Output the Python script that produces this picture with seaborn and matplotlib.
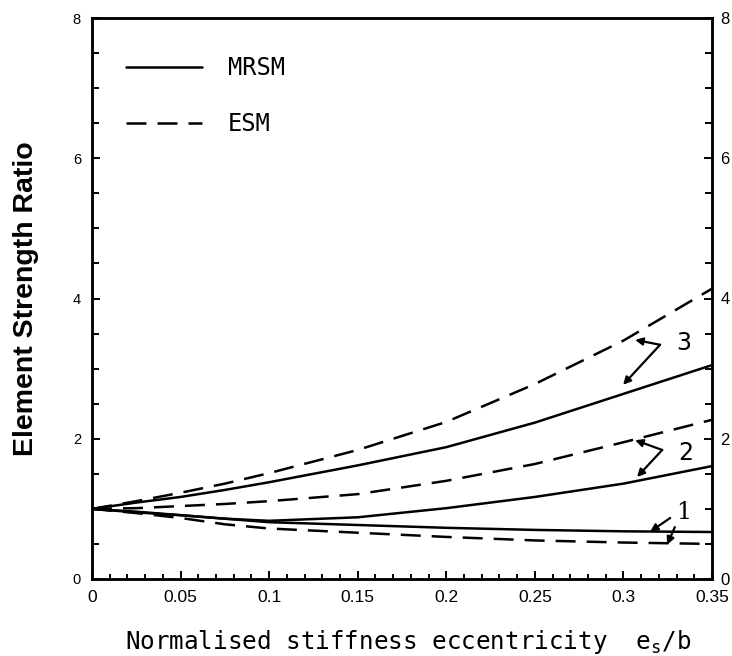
import numpy as np
import pandas as pd
import matplotlib
matplotlib.use("Agg")
import matplotlib.pyplot as plt
from matplotlib.lines import Line2D
import seaborn as sns

# ---- data ----
ecc = [0.0, 0.025, 0.05, 0.075, 0.1, 0.15, 0.2, 0.25, 0.3, 0.35]
mrsm_1 = [1.0, 0.95, 0.91, 0.86, 0.81, 0.77, 0.73, 0.70, 0.68, 0.67]
esm_1 = [1.0, 0.94, 0.87, 0.78, 0.72, 0.66, 0.60, 0.55, 0.52, 0.50]
mrsm_2 = [1.0, 0.96, 0.91, 0.86, 0.83, 0.88, 1.01, 1.17, 1.36, 1.61]
esm_2 = [1.0, 1.01, 1.04, 1.07, 1.11, 1.21, 1.40, 1.64, 1.95, 2.27]
mrsm_3 = [1.0, 1.09, 1.17, 1.27, 1.38, 1.62, 1.88, 2.23, 2.64, 3.05]
esm_3 = [1.0, 1.11, 1.23, 1.36, 1.51, 1.84, 2.24, 2.78, 3.40, 4.14]

methods = ["MRSM", "ESM"]
curve_ids = ["1", "2", "3"]
x_ticks = [0, 0.05, 0.1, 0.15, 0.2, 0.25, 0.3, 0.35]
x_ticklabels = ["0", "0.05", "0.1", "0.15", "0.2", "0.25", "0.3", "0.35"]
y_ticks = [0, 2, 4, 6, 8]

series = {("1", "MRSM"): mrsm_1, ("1", "ESM"): esm_1,
          ("2", "MRSM"): mrsm_2, ("2", "ESM"): esm_2,
          ("3", "MRSM"): mrsm_3, ("3", "ESM"): esm_3}
rows = []
for (cid, m), vals in series.items():
    for xv, yv in zip(ecc, vals):
        rows.append({"e": xv, "ratio": yv, "curve": cid + m, "method": m})
df = pd.DataFrame(rows)

# ---- style ----
sns.set_style("ticks")
plt.rcParams["font.family"] = ["Liberation Sans", "DejaVu Sans"]
plt.rcParams["mathtext.fontset"] = "custom"
plt.rcParams["mathtext.rm"] = "DejaVu Sans Mono"
plt.rcParams["mathtext.it"] = "DejaVu Sans Mono"
for k in ["text.color", "axes.labelcolor", "xtick.color", "ytick.color", "axes.edgecolor"]:
    plt.rcParams[k] = "black"

LW = 1.8
DASH = (8, 4.4)

fig = plt.figure(figsize=(7.32, 6.56), dpi=100)
ax = fig.add_axes([92 / 732, 1 - 579 / 656, 620 / 732, 561 / 656])

sns.lineplot(data=df, x="e", y="ratio", units="curve", style="method",
             style_order=methods, dashes={"MRSM": "", "ESM": DASH},
             color="black", estimator=None, linewidth=LW, legend=False,
             sort=False, ax=ax)

ax.set_xlim(0, 0.35)
ax.set_ylim(0, 8)
ax.set_xticks(x_ticks)
ax.set_xticklabels(x_ticklabels)
ax.set_xticks(np.arange(0, 0.3501, 0.01), minor=True)
ax.set_yticks(y_ticks)
ax.set_yticks(np.arange(0, 8.01, 0.5), minor=True)

for sp in ax.spines.values():
    sp.set_visible(True)
    sp.set_linewidth(1.8)
    sp.set_color("black")

ax.tick_params(axis="x", which="major", direction="in", length=6, width=1.4,
               labelsize=12.5, pad=8, top=False)
ax.tick_params(axis="x", which="minor", direction="in", length=3.5, width=1.4, top=False)
ax.tick_params(axis="y", which="major", direction="in", length=6, width=1.4,
               labelsize=10.5, pad=8, left=True, right=False)
ax.tick_params(axis="y", which="minor", direction="in", length=5, width=1.4,
               left=True, right=False)

# right-hand axis with its own labels
ax2 = ax.twinx()
ax2.set_ylim(0, 8)
ax2.set_yticks(y_ticks)
ax2.set_yticks(np.arange(0, 8.01, 0.5), minor=True)
ax2.tick_params(axis="y", which="major", direction="in", length=6, width=1.4,
                labelsize=12, pad=6)
ax2.tick_params(axis="y", which="minor", direction="in", length=5, width=1.4)
for sp in ax2.spines.values():
    sp.set_linewidth(1.8)
    sp.set_color("black")

ax.set_xlabel("Normalised stiffness eccentricity  e$_\\mathrm{s}$/b",
              family="DejaVu Sans Mono", fontsize=17.5)
ax.xaxis.set_label_coords(0.51, -0.088)
ax.set_ylabel("Element Strength Ratio", fontsize=20.5, fontweight="bold")
ax.yaxis.set_label_coords(-0.085, 0.5)

# legend
handles = [Line2D([], [], color="black", lw=LW),
           Line2D([], [], color="black", lw=LW, dashes=DASH)]
ax.legend(handles, methods, loc="upper left", bbox_to_anchor=(0.055, 0.932),
          frameon=False, borderpad=0, borderaxespad=0, handlelength=3.2,
          handletextpad=1.1, labelspacing=1.35,
          prop={"family": "DejaVu Sans Mono", "size": 17})

# curve-number annotations (zig-zag arrows)
arrow_kw = dict(arrowstyle="-|>", color="black", lw=1.6, mutation_scale=11,
                shrinkA=0, shrinkB=0)
annot = [
    ("3", (0.330, 3.37), (0.3207, 3.34), [(0.3066, 3.41), (0.2998, 2.77)]),
    ("2", (0.331, 1.80), (0.3219, 1.84), [(0.3066, 1.98), (0.3077, 1.455)]),
]
for lab, lpos, vtx, targets in annot:
    ax.text(lpos[0], lpos[1], lab, fontsize=17, ha="left", va="center",
            family="DejaVu Sans")
    for t in targets:
        ax.annotate("", xy=t, xytext=vtx, arrowprops=arrow_kw)
ax.text(0.3300, 0.95, "1", fontsize=17, ha="left", va="center", family="DejaVu Serif")
ax.annotate("", xy=(0.3151, 0.675), xytext=(0.3264, 0.87), arrowprops=arrow_kw)
ax.annotate("", xy=(0.3247, 0.49), xytext=(0.329, 0.74), arrowprops=arrow_kw)

fig.savefig("out.png", dpi=100)
